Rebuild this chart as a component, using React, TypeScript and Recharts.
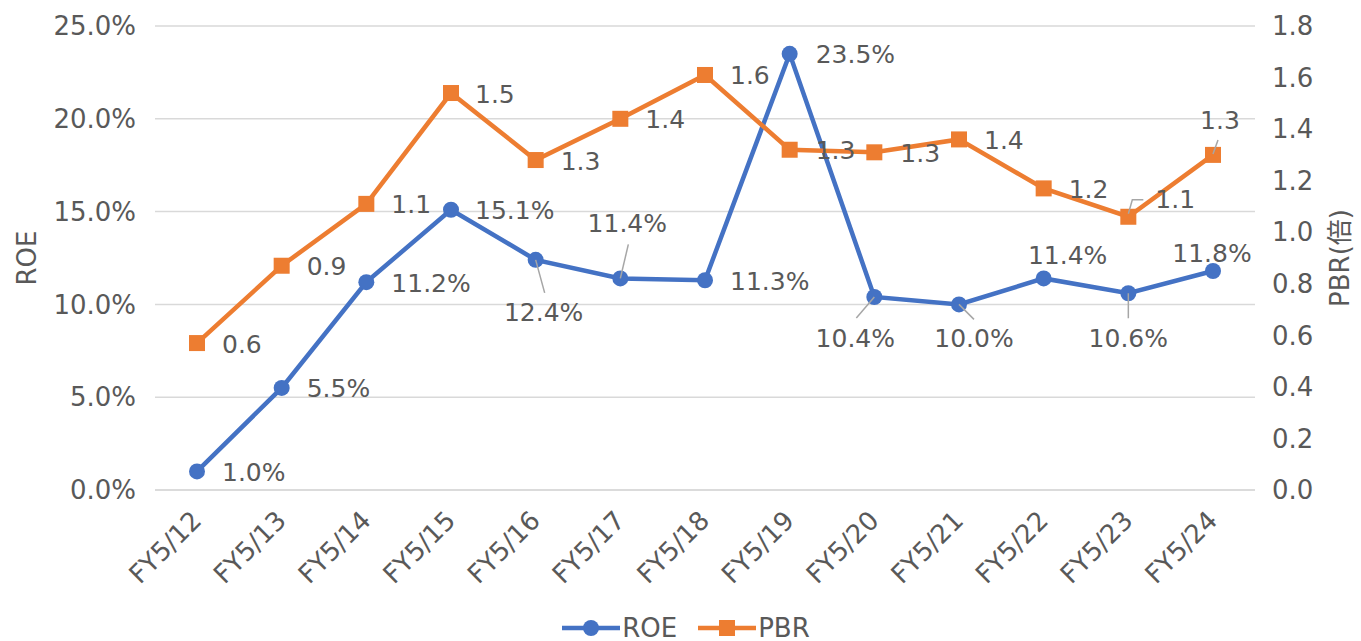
import { LineChart, Line, XAxis, YAxis, CartesianGrid, Legend, LabelList } from "recharts";

const years = ["FY5/12", "FY5/13", "FY5/14", "FY5/15", "FY5/16", "FY5/17", "FY5/18", "FY5/19", "FY5/20", "FY5/21", "FY5/22", "FY5/23", "FY5/24"];
const roe = [1.0, 5.5, 11.2, 15.1, 12.4, 11.4, 11.3, 23.5, 10.4, 10.0, 11.4, 10.6, 11.8];
const pbr = [0.57, 0.87, 1.11, 1.54, 1.28, 1.44, 1.61, 1.32, 1.31, 1.36, 1.17, 1.06, 1.3];
const roeTicks = [0, 5, 10, 15, 20, 25];
const pbrTicks = [0, 0.2, 0.4, 0.6, 0.8, 1.0, 1.2, 1.4, 1.6, 1.8];

const data = years.map((year, i) => ({ year, roe: roe[i], pbr: pbr[i] }));

const FONT = '"DejaVu Sans", "Noto Sans CJK JP", sans-serif';
const TEXT = "#595959";
const BLUE = "#4472C4";
const ORANGE = "#ED7D31";
const LEADER = "#a6a6a6";

type Place = { dx: number; dy: number; anchor: "start" | "middle"; leader?: number[][] };
const right = (dx = 25): Place => ({ dx, dy: 1, anchor: "start" });

// where each data label sits relative to its point (Excel moved some by hand)
const roePlace: Place[] = [
  right(), right(), right(), right(24),
  { dx: 8, dy: 53, anchor: "middle", leader: [[0, 0], [9, 33]] },
  { dx: 7, dy: -55, anchor: "middle", leader: [[8, -34], [0, 0]] },
  right(), right(26),
  { dx: -19, dy: 42, anchor: "middle", leader: [[-18, 21], [0, 0]] },
  { dx: 15, dy: 34, anchor: "middle", leader: [[0, 0], [15, 15]] },
  { dx: 24, dy: -23, anchor: "middle" },
  { dx: 0, dy: 45, anchor: "middle", leader: [[0, 0], [0, 25]] },
  { dx: -1, dy: -17, anchor: "middle" },
];
const pbrPlace: Place[] = [
  right(), right(), right(), right(24), right(), right(), right(), right(26), right(26), right(), right(),
  { dx: 27, dy: -17, anchor: "start", leader: [[0, -3], [4, -17], [15, -17]] },
  { dx: 7, dy: -34, anchor: "middle", leader: [[5, -15], [0, -1]] },
];

const makeLabel = (places: Place[], fmt: (v: number) => string) => (props: any) => {
  const { x, y, value, index } = props;
  const p = places[index];
  if (!p) return null;
  return (
    <g>
      {p.leader && (
        <polyline
          points={p.leader.map(([a, b]) => `${x + a},${y + b}`).join(" ")}
          fill="none"
          stroke={LEADER}
          strokeWidth={1.5}
        />
      )}
      <text
        x={x + p.dx}
        y={y + p.dy}
        textAnchor={p.anchor}
        dominantBaseline="central"
        fill={TEXT}
        fontSize={25}
        fontFamily={FONT}
      >
        {fmt(value)}
      </text>
    </g>
  );
};

const RoeDot = (props: any) => {
  const { cx, cy } = props;
  return <circle cx={cx} cy={cy} r={8} fill={BLUE} />;
};

const PbrDot = (props: any) => {
  const { cx, cy } = props;
  return <rect x={cx - 8} y={cy - 8} width={16} height={16} fill={ORANGE} />;
};

const XTick = (props: any) => {
  const { x, y, payload } = props;
  return (
    <text
      transform={`translate(${x + 6},${y + 32}) rotate(-45)`}
      textAnchor="end"
      fill={TEXT}
      fontSize={26}
      fontFamily={FONT}
    >
      {payload.value}
    </text>
  );
};

const AxisTitle = (props: any) => {
  const { viewBox, text, dx } = props;
  const cx = viewBox.x + dx;
  const cy = viewBox.y + viewBox.height / 2;
  return (
    <text
      transform={`translate(${cx},${cy}) rotate(-90)`}
      textAnchor="middle"
      dominantBaseline="central"
      fill={TEXT}
      fontSize={26}
      fontFamily={FONT}
    >
      {text}
    </text>
  );
};

const legendItems = [
  { name: "ROE", color: BLUE, shape: "circle" },
  { name: "PBR", color: ORANGE, shape: "square" },
];

const renderLegend = () => (
  <div style={{ display: "flex", justifyContent: "center", height: 26, lineHeight: "26px", paddingLeft: 11 }}>
    {legendItems.map((item, i) => (
      <div key={item.name} style={{ display: "flex", alignItems: "center", marginRight: i === 0 ? 21 : 0 }}>
        <svg width={58} height={20}>
          <line x1={0} y1={10} x2={58} y2={10} stroke={item.color} strokeWidth={4.5} />
          {item.shape === "circle" ? (
            <circle cx={29} cy={10} r={8} fill={item.color} />
          ) : (
            <rect x={21} y={2} width={16} height={16} fill={item.color} />
          )}
        </svg>
        <span style={{ fontSize: 26, color: TEXT, fontFamily: FONT, marginLeft: 2 }}>{item.name}</span>
      </div>
    ))}
  </div>
);

export default function App() {
  return (
    <div style={{ position: "absolute", left: 0, top: 0, background: "#fff", fontFamily: FONT }}>
      <LineChart width={1361} height={641} data={data} margin={{ top: 26, right: 0, bottom: 0, left: 0 }}>
        <CartesianGrid yAxisId="left" vertical={false} stroke="#d9d9d9" strokeWidth={1.5} />
        <XAxis
          dataKey="year"
          padding={{ left: 42, right: 42 }}
          height={125}
          tickLine={false}
          tickSize={0}
          tickMargin={0}
          axisLine={{ stroke: "#d9d9d9", strokeWidth: 1.5 }}
          tick={<XTick />}
          interval={0}
        />
        <YAxis
          yAxisId="left"
          width={155}
          domain={[0, 25]}
          ticks={roeTicks}
          tickFormatter={(v: number) => `${v.toFixed(1)}%`}
          axisLine={false}
          tickLine={false}
          tickSize={0}
          tickMargin={19}
          tick={{ fill: TEXT, fontSize: 26, fontFamily: FONT }}
          label={<AxisTitle text="ROE" dx={27} />}
        />
        <YAxis
          yAxisId="right"
          orientation="right"
          width={106}
          domain={[0, 1.8]}
          ticks={pbrTicks}
          tickFormatter={(v: number) => v.toFixed(1)}
          axisLine={false}
          tickLine={false}
          tickSize={0}
          tickMargin={17}
          tick={{ fill: TEXT, fontSize: 26, fontFamily: FONT, textAnchor: "start" }}
          label={<AxisTitle text="PBR(倍)" dx={85} />}
        />
        <Legend verticalAlign="bottom" content={renderLegend} />
        <Line
          yAxisId="left"
          dataKey="roe"
          name="ROE"
          stroke={BLUE}
          strokeWidth={4.5}
          dot={<RoeDot />}
          activeDot={false}
          isAnimationActive={false}
        >
          <LabelList dataKey="roe" content={makeLabel(roePlace, (v) => `${v.toFixed(1)}%`)} />
        </Line>
        <Line
          yAxisId="right"
          dataKey="pbr"
          name="PBR"
          stroke={ORANGE}
          strokeWidth={4.5}
          dot={<PbrDot />}
          activeDot={false}
          isAnimationActive={false}
        >
          <LabelList dataKey="pbr" content={makeLabel(pbrPlace, (v) => v.toFixed(1))} />
        </Line>
      </LineChart>
    </div>
  );
}
